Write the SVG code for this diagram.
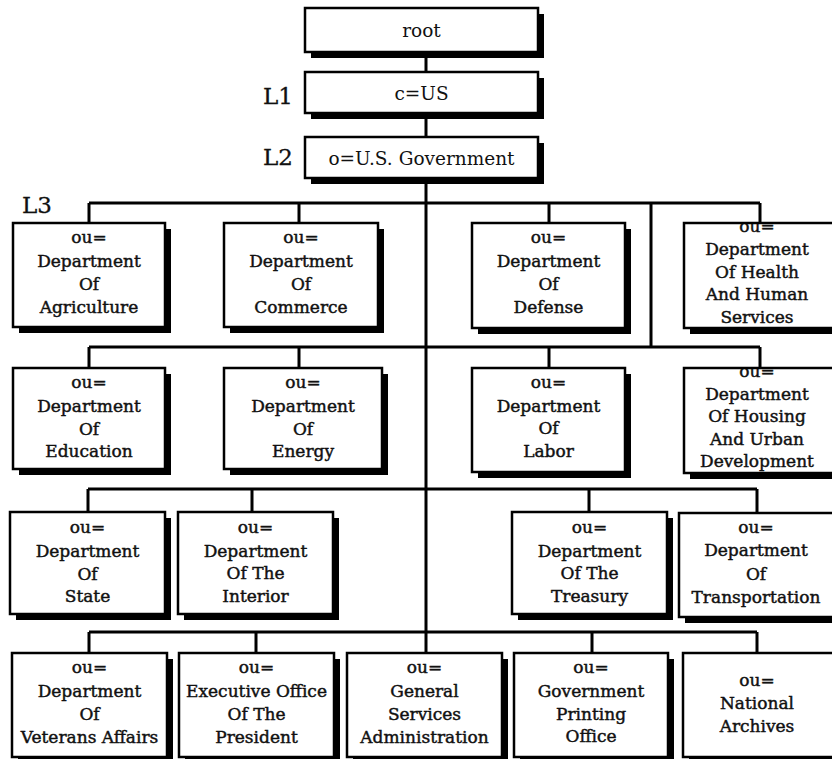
<svg xmlns="http://www.w3.org/2000/svg" width="832" height="759" viewBox="0 0 832 759">
<style>
.sh{fill:#000}
.bx{fill:#fff;stroke:none}
.bd{fill:none;stroke:#000;stroke-width:2.5}
.t{font-family:"DejaVu Serif","Liberation Serif",serif;font-size:17px;fill:#111;stroke:#111;stroke-width:0.45;text-anchor:middle}
.tt{font-family:"DejaVu Serif","Liberation Serif",serif;font-size:18.5px;fill:#111;text-anchor:middle}
.lv{font-family:"DejaVu Serif","Liberation Serif",serif;font-size:23px;fill:#111;stroke:#111;stroke-width:0.3}
.c{fill:none;stroke:#000;stroke-width:3}
</style>
<rect width="832" height="759" fill="#fff"/>
<g id="connectors">
<path class="c" d="M426 52V72M426 113V137M426 178V653"/>
<path class="c" d="M89 203H760M89 203V223M299 203V223M549 203V223M760 203V223M651 203V347"/>
<path class="c" d="M89 347H760M89 347V368M299 347V368M549 347V368M760 347V368"/>
<path class="c" d="M88 489H757M88 489V512M252 489V512M589 489V512M757 489V512"/>
<path class="c" d="M89 632H757M89 632V653M256 632V653M592 632V653M757 632V653"/>
</g>
<g id="labels">
<text class="lv" x="263" y="104">L1</text>
<text class="lv" x="263" y="165">L2</text>
<text class="lv" x="22" y="213">L3</text>
</g>
<g id="root">
<rect class="sh" x="311" y="14" width="233" height="44"/>
<rect class="bx" x="305" y="8" width="233" height="44"/>
<text class="tt" x="421.5" y="37">root</text>
<rect class="bd" x="305" y="8" width="233" height="44"/>
</g>
<g id="c-us">
<rect class="sh" x="311" y="78" width="233" height="41"/>
<rect class="bx" x="305" y="72" width="233" height="41"/>
<text class="tt" x="421.5" y="100">c=US</text>
<rect class="bd" x="305" y="72" width="233" height="41"/>
</g>
<g id="o-usgov">
<rect class="sh" x="311" y="143" width="233" height="41"/>
<rect class="bx" x="305" y="137" width="233" height="41"/>
<text class="tt" x="421.5" y="165">o=U.S. Government</text>
<rect class="bd" x="305" y="137" width="233" height="41"/>
</g>
<g id="agriculture">
<rect class="sh" x="19" y="229" width="152" height="104"/>
<rect class="bx" x="13" y="223" width="152" height="104"/>
<text class="t" x="89"><tspan x="89" y="243">ou=</tspan><tspan x="89" y="267">Department</tspan><tspan x="89" y="290">Of</tspan><tspan x="89" y="313">Agriculture</tspan></text>
<rect class="bd" x="13" y="223" width="152" height="104"/>
</g>
<g id="commerce">
<rect class="sh" x="230" y="229" width="154" height="104"/>
<rect class="bx" x="224" y="223" width="154" height="104"/>
<text class="t" x="301"><tspan x="301" y="243">ou=</tspan><tspan x="301" y="267">Department</tspan><tspan x="301" y="290">Of</tspan><tspan x="301" y="313">Commerce</tspan></text>
<rect class="bd" x="224" y="223" width="154" height="104"/>
</g>
<g id="defense">
<rect class="sh" x="478" y="229" width="153" height="105"/>
<rect class="bx" x="472" y="223" width="153" height="105"/>
<text class="t" x="548.5"><tspan x="548.5" y="243">ou=</tspan><tspan x="548.5" y="267">Department</tspan><tspan x="548.5" y="290">Of</tspan><tspan x="548.5" y="313">Defense</tspan></text>
<rect class="bd" x="472" y="223" width="153" height="105"/>
</g>
<g id="health">
<rect class="sh" x="690" y="229" width="160" height="105"/>
<rect class="bx" x="684" y="223" width="160" height="105"/>
<text class="t" x="757"><tspan x="757" y="232">ou=</tspan><tspan x="757" y="255">Department</tspan><tspan x="757" y="278">Of Health</tspan><tspan x="757" y="300">And Human</tspan><tspan x="757" y="323">Services</tspan></text>
<rect class="bd" x="684" y="223" width="160" height="105"/>
</g>
<g id="education">
<rect class="sh" x="19" y="374" width="152" height="101"/>
<rect class="bx" x="13" y="368" width="152" height="101"/>
<text class="t" x="89"><tspan x="89" y="388">ou=</tspan><tspan x="89" y="412">Department</tspan><tspan x="89" y="435">Of</tspan><tspan x="89" y="457">Education</tspan></text>
<rect class="bd" x="13" y="368" width="152" height="101"/>
</g>
<g id="energy">
<rect class="sh" x="230" y="374" width="158" height="101"/>
<rect class="bx" x="224" y="368" width="158" height="101"/>
<text class="t" x="303"><tspan x="303" y="388">ou=</tspan><tspan x="303" y="412">Department</tspan><tspan x="303" y="435">Of</tspan><tspan x="303" y="457">Energy</tspan></text>
<rect class="bd" x="224" y="368" width="158" height="101"/>
</g>
<g id="labor">
<rect class="sh" x="478" y="374" width="153" height="104"/>
<rect class="bx" x="472" y="368" width="153" height="104"/>
<text class="t" x="548.5"><tspan x="548.5" y="388">ou=</tspan><tspan x="548.5" y="412">Department</tspan><tspan x="548.5" y="434">Of</tspan><tspan x="548.5" y="457">Labor</tspan></text>
<rect class="bd" x="472" y="368" width="153" height="104"/>
</g>
<g id="housing">
<rect class="sh" x="690" y="374" width="160" height="105"/>
<rect class="bx" x="684" y="368" width="160" height="105"/>
<text class="t" x="757"><tspan x="757" y="377">ou=</tspan><tspan x="757" y="400">Department</tspan><tspan x="757" y="422">Of Housing</tspan><tspan x="757" y="445">And Urban</tspan><tspan x="757" y="467">Development</tspan></text>
<rect class="bd" x="684" y="368" width="160" height="105"/>
</g>
<g id="state">
<rect class="sh" x="16" y="518" width="155" height="102"/>
<rect class="bx" x="10" y="512" width="155" height="102"/>
<text class="t" x="87.5"><tspan x="87.5" y="533">ou=</tspan><tspan x="87.5" y="557">Department</tspan><tspan x="87.5" y="580">Of</tspan><tspan x="87.5" y="602">State</tspan></text>
<rect class="bd" x="10" y="512" width="155" height="102"/>
</g>
<g id="interior">
<rect class="sh" x="184" y="518" width="155" height="102"/>
<rect class="bx" x="178" y="512" width="155" height="102"/>
<text class="t" x="255.5"><tspan x="255.5" y="533">ou=</tspan><tspan x="255.5" y="557">Department</tspan><tspan x="255.5" y="579">Of The</tspan><tspan x="255.5" y="602">Interior</tspan></text>
<rect class="bd" x="178" y="512" width="155" height="102"/>
</g>
<g id="treasury">
<rect class="sh" x="518" y="518" width="155" height="102"/>
<rect class="bx" x="512" y="512" width="155" height="102"/>
<text class="t" x="589.5"><tspan x="589.5" y="533">ou=</tspan><tspan x="589.5" y="557">Department</tspan><tspan x="589.5" y="579">Of The</tspan><tspan x="589.5" y="602">Treasury</tspan></text>
<rect class="bd" x="512" y="512" width="155" height="102"/>
</g>
<g id="transportation">
<rect class="sh" x="685" y="519" width="160" height="104"/>
<rect class="bx" x="679" y="513" width="160" height="104"/>
<text class="t" x="756"><tspan x="756" y="533">ou=</tspan><tspan x="756" y="556">Department</tspan><tspan x="756" y="580">Of</tspan><tspan x="756" y="603">Transportation</tspan></text>
<rect class="bd" x="679" y="513" width="160" height="104"/>
</g>
<g id="veterans">
<rect class="sh" x="18" y="659" width="155" height="104"/>
<rect class="bx" x="12" y="653" width="155" height="104"/>
<text class="t" x="89.5"><tspan x="89.5" y="673">ou=</tspan><tspan x="89.5" y="697">Department</tspan><tspan x="89.5" y="720">Of</tspan><tspan x="89.5" y="743">Veterans Affairs</tspan></text>
<rect class="bd" x="12" y="653" width="155" height="104"/>
</g>
<g id="executive">
<rect class="sh" x="185" y="659" width="155" height="104"/>
<rect class="bx" x="179" y="653" width="155" height="104"/>
<text class="t" x="256.5"><tspan x="256.5" y="673">ou=</tspan><tspan x="256.5" y="697">Executive Office</tspan><tspan x="256.5" y="720">Of The</tspan><tspan x="256.5" y="743">President</tspan></text>
<rect class="bd" x="179" y="653" width="155" height="104"/>
</g>
<g id="gsa">
<rect class="sh" x="353" y="659" width="155" height="104"/>
<rect class="bx" x="347" y="653" width="155" height="104"/>
<text class="t" x="424.5"><tspan x="424.5" y="673">ou=</tspan><tspan x="424.5" y="697">General</tspan><tspan x="424.5" y="720">Services</tspan><tspan x="424.5" y="743">Administration</tspan></text>
<rect class="bd" x="347" y="653" width="155" height="104"/>
</g>
<g id="gpo">
<rect class="sh" x="520" y="659" width="154" height="104"/>
<rect class="bx" x="514" y="653" width="154" height="104"/>
<text class="t" x="591"><tspan x="591" y="673">ou=</tspan><tspan x="591" y="697">Government</tspan><tspan x="591" y="720">Printing</tspan><tspan x="591" y="742">Office</tspan></text>
<rect class="bd" x="514" y="653" width="154" height="104"/>
</g>
<g id="archives">
<rect class="sh" x="689" y="659" width="160" height="104"/>
<rect class="bx" x="683" y="653" width="160" height="104"/>
<text class="t" x="757"><tspan x="757" y="686">ou=</tspan><tspan x="757" y="709">National</tspan><tspan x="757" y="732">Archives</tspan></text>
<rect class="bd" x="683" y="653" width="160" height="104"/>
</g>
</svg>
